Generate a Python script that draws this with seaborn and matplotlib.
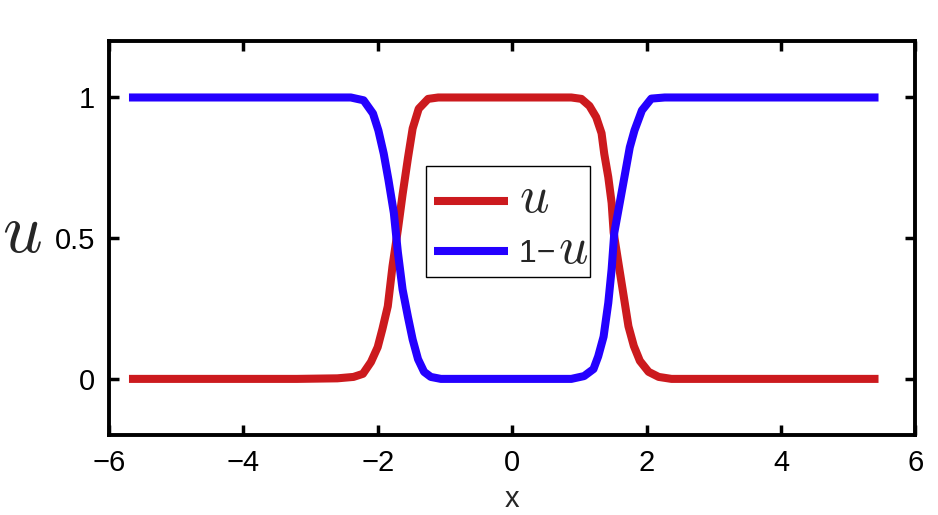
import pandas as pd
import matplotlib
matplotlib.use("Agg")
import matplotlib.pyplot as plt
import seaborn as sns

# values
red_x = [-5.7, -4.0, -3.2, -2.6, -2.36, -2.22, -2.10, -2.00, -1.93, -1.85, -1.78, -1.70,
         -1.63, -1.55, -1.48, -1.39, -1.25, -1.10, 0.0, 0.88, 1.03, 1.15, 1.25, 1.33, 1.37,
         1.43, 1.48, 1.51, 1.58, 1.66, 1.73, 1.81, 1.90, 2.03, 2.18, 2.37, 3.0, 4.0, 5.45]
red_u = [0, 0, 0, 0.002, 0.007, 0.018, 0.06, 0.113, 0.177, 0.258, 0.40, 0.53,
         0.655, 0.785, 0.89, 0.96, 0.995, 1.0, 1.0, 1.0, 0.995, 0.97, 0.93, 0.873, 0.80,
         0.717, 0.625, 0.52, 0.413, 0.293, 0.187, 0.117, 0.064, 0.025, 0.007, 0.0, 0, 0, 0]

blue_x = [-5.7, -4.0, -3.0, -2.4, -2.21, -2.07, -1.99, -1.91, -1.84, -1.76, -1.70, -1.63,
          -1.55, -1.48, -1.40, -1.31, -1.21, -1.06, 0.0, 0.88, 1.07, 1.21, 1.28, 1.36, 1.43,
          1.48, 1.52, 1.60, 1.67, 1.75, 1.82, 1.93, 2.07, 2.27, 3.0, 4.0, 5.45]
blue_u = [1, 1, 1, 1.0, 0.99, 0.943, 0.883, 0.80, 0.707, 0.59, 0.45, 0.318,
          0.22, 0.14, 0.07, 0.025, 0.007, 0.0, 0.0, 0.0, 0.01, 0.035, 0.08, 0.15, 0.27,
          0.39, 0.52, 0.625, 0.717, 0.823, 0.883, 0.954, 0.996, 1.0, 1, 1, 1]

series_names = ["u", "1-u"]
x_ticks = [-6, -4, -2, 0, 2, 4, 6]
y_ticks = [0, 0.5, 1]
y_tick_labels = ["0", "0.5", "1"]


def main():
    sns.set_style("white")
    plt.rcParams["font.family"] = ["Liberation Sans", "DejaVu Sans"]
    plt.rcParams["mathtext.fontset"] = "cm"

    df = pd.concat([
        pd.DataFrame({"x": red_x, "u": red_u, "series": series_names[0]}),
        pd.DataFrame({"x": blue_x, "u": blue_u, "series": series_names[1]}),
    ], ignore_index=True)

    fig = plt.figure(figsize=(9.38, 5.15), dpi=100)
    ax = fig.add_axes([0.116, 0.155, 0.860, 0.765])

    sns.lineplot(data=df, x="x", y="u", hue="series", sort=False, estimator=None,
                 palette=["#cc1a1e", "#2400ff"], linewidth=5.8, ax=ax, legend=False)
    for ln in ax.get_lines():
        ln.set_solid_capstyle("butt")
        ln.set_solid_joinstyle("round")

    ax.set_xlim(-6, 6)
    ax.set_ylim(-0.2, 1.2)
    ax.set_xticks(x_ticks)
    ax.set_xticklabels([str(t).replace("-", "\u2212") for t in x_ticks])
    ax.set_yticks(y_ticks)
    ax.set_yticklabels(y_tick_labels)
    ax.tick_params(direction="in", length=7, width=2.5, labelsize=21, pad=10,
                   bottom=True, left=True, top=True, right=True, colors="black")
    for sp in ax.spines.values():
        sp.set_linewidth(2.8)
        sp.set_color("black")

    ax.set_xlabel("x", fontsize=21, labelpad=6)
    ax.set_ylabel(r"$u$", fontsize=50, rotation=0, labelpad=0)
    ax.yaxis.set_label_coords(-0.108, 0.43)

    # legend: big math "u"; second entry is sans "1-" followed by a big math "u"
    leg = ax.legend(ax.get_lines(), [r"$u$", "1\u2212" + "\u00a0" * 3], loc="center",
                    bbox_to_anchor=(0.495, 0.542),
                    fontsize=23, frameon=True, fancybox=False, framealpha=1,
                    handlelength=2.3, handletextpad=0.35, labelspacing=0.5,
                    borderpad=0.25, borderaxespad=0)
    leg.get_frame().set_edgecolor("black")
    leg.get_frame().set_linewidth(1.0)
    texts = leg.get_texts()
    texts[0].set_fontsize(37)
    ax.annotate(r"$u$", xy=(0, 0), xycoords=texts[1], xytext=(28, 4.5),
                textcoords="offset points", fontsize=37, ha="left", va="baseline",
                zorder=10)

    fig.savefig("out.png", dpi=100)


if __name__ == "__main__":
    main()
